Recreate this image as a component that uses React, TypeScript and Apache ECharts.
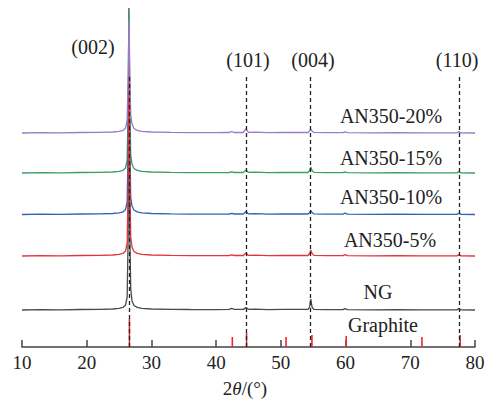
import React, { useEffect, useRef } from "react";
import * as echarts from "echarts";

// Stacked XRD patterns (offset intensity, a.u.) as [2θ, intensity] pairs
const ngPattern: [number, number][] = [
  [10, 37], [13, 37.4], [16, 37.1], [19, 37.5], [22, 37.6], [24, 38], [25, 38.6],
  [25.6, 39.6], [26.0, 42], [26.25, 50], [26.4, 110], [26.52, 339], [26.65, 120],
  [26.8, 58], [27.0, 46], [27.3, 41.5], [27.8, 39.6], [28.5, 38.6], [30, 38],
  [33, 37.7], [36, 37.5], [40, 37.4], [42, 37.6], [42.4, 38.6], [42.8, 37.6],
  [44.2, 37.6], [44.6, 39.4], [45, 37.7], [46, 37.9], [48, 37.4], [50.5, 37.6],
  [54.2, 37.6], [54.45, 40], [54.62, 48], [54.82, 40], [55.1, 37.7], [57, 37.3],
  [59.6, 37.4], [59.9, 38.4], [60.3, 37.3], [64, 37.1], [68, 37.3], [72, 37.1],
  [77.2, 37.1], [77.5, 38.4], [77.8, 37.1], [80, 37],
];

const an5Pattern: [number, number][] = [
  [10, 91], [13, 91.3], [16, 91.1], [19, 91.5], [22, 91.6], [24, 92], [25, 92.6],
  [25.6, 93.6], [26.0, 96], [26.25, 104], [26.4, 160], [26.52, 300], [26.65, 170],
  [26.8, 110], [27.0, 100], [27.3, 95.5], [27.8, 93.6], [28.5, 92.6], [30, 92],
  [33, 91.6], [36, 91.4], [40, 91.3], [42, 91.5], [42.4, 92.2], [42.8, 91.5],
  [44.2, 91.5], [44.6, 94], [45, 91.6], [46, 91.9], [48, 91.4], [50.5, 91.6],
  [54.2, 91.5], [54.45, 93.5], [54.62, 97], [54.82, 93.5], [55.1, 91.6], [57, 91.3],
  [59.6, 91.4], [59.9, 92.3], [60.3, 91.3], [64, 91.1], [68, 91.3], [72, 91.1],
  [77.2, 91.1], [77.5, 92.4], [77.8, 91.1], [80, 91],
];

const an10Pattern: [number, number][] = [
  [10, 132.5], [13, 132.8], [16, 132.6], [19, 133], [22, 133.1], [24, 133.5], [25, 134.1],
  [25.6, 135.1], [26.0, 137.5], [26.25, 145], [26.4, 200], [26.52, 310], [26.65, 210],
  [26.8, 150], [27.0, 141], [27.3, 137], [27.8, 135.1], [28.5, 134.1], [30, 133.5],
  [33, 133.1], [36, 132.9], [40, 132.8], [42, 133], [42.4, 133.7], [42.8, 133],
  [44.2, 133], [44.6, 135.5], [45, 133.1], [46, 133.4], [48, 132.9], [50.5, 133.1],
  [54.2, 133], [54.45, 134.5], [54.62, 136.5], [54.82, 134.5], [55.1, 133.1], [57, 132.8],
  [59.6, 132.9], [59.9, 133.8], [60.3, 132.8], [64, 132.6], [68, 132.8], [72, 132.6],
  [77.2, 132.6], [77.5, 133.8], [77.8, 132.6], [80, 132.5],
];

const an15Pattern: [number, number][] = [
  [10, 174], [13, 174.3], [16, 174.1], [19, 174.5], [22, 174.6], [24, 175], [25, 175.6],
  [25.6, 176.6], [26.0, 179], [26.25, 187], [26.4, 240], [26.52, 334], [26.65, 250],
  [26.8, 192], [27.0, 183], [27.3, 178.5], [27.8, 176.6], [28.5, 175.6], [30, 175],
  [33, 174.6], [36, 174.4], [40, 174.3], [42, 174.5], [42.4, 175.2], [42.8, 174.5],
  [44.2, 174.5], [44.6, 177], [45, 174.6], [46, 174.9], [48, 174.4], [50.5, 174.6],
  [54.2, 174.5], [54.45, 176.5], [54.62, 180], [54.82, 176.5], [55.1, 174.6], [57, 174.3],
  [59.6, 174.4], [59.9, 175.2], [60.3, 174.3], [64, 174.1], [68, 174.3], [72, 174.1],
  [77.2, 174.1], [77.5, 175.4], [77.8, 174.1], [80, 174],
];

const an20Pattern: [number, number][] = [
  [10, 214], [13, 214.3], [16, 214.1], [19, 214.5], [22, 214.6], [24, 215], [25, 215.6],
  [25.6, 216.6], [26.0, 219], [26.25, 227], [26.4, 270], [26.52, 327], [26.65, 280],
  [26.8, 232], [27.0, 223], [27.3, 218.5], [27.8, 216.6], [28.5, 215.6], [30, 215],
  [33, 214.6], [36, 214.4], [40, 214.3], [42, 214.5], [42.4, 215.4], [42.8, 214.5],
  [44.2, 214.5], [44.6, 218], [45, 214.6], [46, 214.9], [48, 214.4], [50.5, 214.6],
  [54.2, 214.5], [54.45, 216], [54.62, 217.5], [54.82, 216], [55.1, 214.6], [57, 214.3],
  [59.6, 214.4], [59.9, 215.2], [60.3, 214.3], [64, 214.1], [68, 214.3], [72, 214.1],
  [77.2, 214.1], [77.5, 215.4], [77.8, 214.1], [80, 214],
];

// Graphite reference card: [2θ, relative stick height]
const graphiteSticks: [number, number][] = [
  [26.6, 28], [42.5, 10], [44.7, 14], [50.8, 10], [54.8, 12], [60.1, 11], [71.8, 10], [77.7, 12],
];

// Reflection guide lines: 2θ position and top of the dashed line
const reflections = [26.55, 44.6, 54.6, 77.5];
const reflectionTop = 272;

const xTicks = { min: 10, max: 80, interval: 10 };

const serif = "'Liberation Serif', 'Times New Roman', serif";

const traces = [
  { name: "NG", data: ngPattern, color: "#4a4a4a" },
  { name: "AN350-15%", data: an15Pattern, color: "#3a9e66" },
  { name: "AN350-10%", data: an10Pattern, color: "#2f63b3" },
  { name: "AN350-5%", data: an5Pattern, color: "#e2363e" },
  { name: "AN350-20%", data: an20Pattern, color: "#9a7cc6" },
];

// Text annotations: label, centre x, centre y (px)
const annotations: [string, number, number][] = [
  ["(002)", 93, 47],
  ["(101)", 248, 60],
  ["(004)", 313, 60],
  ["(110)", 457, 60],
  ["AN350-20%", 391, 116],
  ["AN350-15%", 391, 158],
  ["AN350-10%", 391, 197],
  ["AN350-5%", 390, 240],
  ["NG", 378, 292],
  ["Graphite", 383, 325],
];

export default function App() {
  const ref = useRef<HTMLDivElement>(null);

  useEffect(() => {
    if (!ref.current) return;
    document.body.style.margin = "0";
    const chart = echarts.init(ref.current, undefined, { renderer: "svg" });

    const lineSeries = traces.map((t) => ({
      type: "line" as const,
      name: t.name,
      data: t.data,
      showSymbol: false,
      symbol: "none",
      clip: true,
      lineStyle: { color: t.color, width: 1.3 },
      z: 3,
    }));

    chart.setOption({
      animation: false,
      backgroundColor: "#ffffff",
      grid: { left: 22, right: 16, top: 7, bottom: 56 },
      xAxis: {
        type: "value",
        min: xTicks.min,
        max: xTicks.max,
        interval: xTicks.interval,
        splitLine: { show: false },
        axisLine: { lineStyle: { color: "#444", width: 1.5 } },
        axisTick: { inside: true, length: 7, lineStyle: { color: "#444", width: 1.5 } },
        axisLabel: { fontFamily: serif, fontSize: 19, color: "#222", margin: 6 },
      },
      yAxis: {
        type: "value",
        min: 0,
        max: 340,
        show: false,
        splitLine: { show: false },
      },
      series: [
        {
          type: "bar",
          name: "Graphite",
          data: graphiteSticks,
          barWidth: 1.6,
          itemStyle: { color: "#e8282e" },
          z: 2,
          markLine: {
            silent: true,
            symbol: ["none", "none"],
            label: { show: false },
            lineStyle: { color: "#222", type: [4, 3], width: 1.3 },
            data: reflections.map((x) => [
              { coord: [x, 0] },
              { coord: [x, reflectionTop] },
            ]),
          },
        },
        ...lineSeries,
      ],
      graphic: [
        ...annotations.map(([text, x, y]) => ({
          type: "text",
          x,
          y,
          style: {
            text,
            fill: "#222",
            font: `20px ${serif}`,
            textAlign: "center",
            textVerticalAlign: "middle",
          },
        })),
        {
          type: "text",
          x: 245,
          y: 388,
          style: {
            text: "{a|2}{i|θ}{a|/(°)}",
            textAlign: "center",
            textVerticalAlign: "middle",
            rich: {
              a: { fontFamily: serif, fontSize: 19, fill: "#222" },
              i: { fontFamily: serif, fontSize: 19, fontStyle: "italic", fill: "#222" },
            },
          },
        },
      ],
    });

    return () => chart.dispose();
  }, []);

  return <div ref={ref} style={{ width: 491, height: 403 }} />;
}
